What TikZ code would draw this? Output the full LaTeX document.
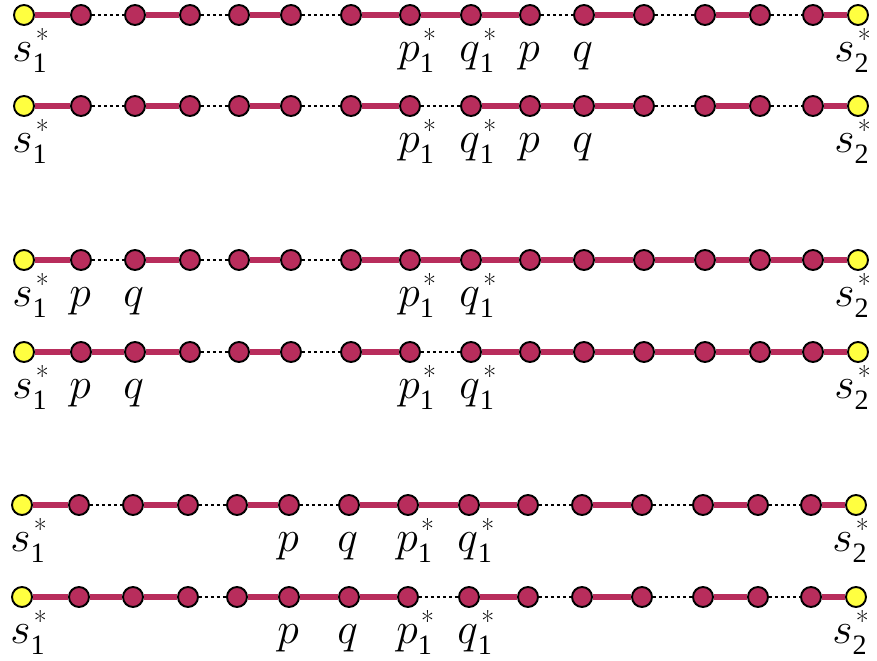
\documentclass[tikz,border=0pt]{standalone}
\usepackage{fontspec}
\newfontfamily\digfont{Liberation Serif}
\usepackage{tikz}
\usetikzlibrary{positioning,backgrounds}
\definecolor{berry}{RGB}{184,45,92}
\definecolor{sun}{RGB}{255,255,64}
% italic letter with index below and star above it
\newcommand{\idx}[2]{$#1${\fontsize{16}{16}\selectfont\rlap{\kern0.12em\raisebox{0.44em}{*}}\raisebox{-0.36em}{\digfont #2}}}

\begin{document}
\begin{tikzpicture}[x=0.02cm,y=-0.02cm,
  bead/.style={circle,draw,line width=1.1pt,fill=berry,minimum size=0.4cm,inner sep=0pt},
  endb/.style={bead,fill=sun},
  seg/.style={draw=berry,line width=3pt},
  hop/.style={draw,line width=1.2pt,dash pattern=on 1.7pt off 1.7pt},
  lab/.style={anchor=base west,inner sep=0pt,font=\fontsize{29}{33}\selectfont},
  labr/.style={lab,anchor=base east}]
\useasboundingbox (0,0) rectangle (877,661);
% six chains of sixteen beads
\foreach \r/\y/\dx in {1/15/0,2/106/0,3/260/0,4/352/0,5/505/-2,6/597/-2}{
  \foreach \i/\x/\s in {1/24/endb,2/81/bead,3/135/bead,4/190/bead,5/239/bead,6/291/bead,
      7/351/bead,8/410/bead,9/471/bead,10/530/bead,11/584/bead,12/644/bead,
      13/705/bead,14/760/bead,15/813/bead,16/858/endb}
    \node[\s] (r\r-\i) at (\x+\dx,\y) {};
}
% links: solid pairs and dotted gaps
\begin{scope}[on background layer]
\foreach \r/\sl/\dl in {1/{1,3,5,7,8,9,11,13,15}/{2,4,6,10,12,14},
    2/{1,3,5,7,9,10,11,13,15}/{2,4,6,8,12,14},
    3/{1,3,5,7,8,9,10,11,12,13,14,15}/{2,4,6},
    4/{1,2,3,5,7,9,10,11,12,13,14,15}/{4,6,8},
    5/{1,3,5,7,8,9,11,13,15}/{2,4,6,10,12,14},
    6/{1,2,3,5,6,7,9,11,13,15}/{4,8,10,12,14}}{
  \foreach \i in \sl{
    \pgfmathtruncatemacro\j{\i+1}
    \draw[seg] (r\r-\i) -- (r\r-\j);
  }
  \foreach \i in \dl{
    \pgfmathtruncatemacro\j{\i+1}
    \draw[hop] (r\r-\i) -- (r\r-\j);
  }
}
\end{scope}
% labels under the beads
\foreach \r/\pp/\qq in {1/10/11,2/10/11,3/2/3,4/2/3,5/6/7,6/6/7}{
  \foreach \i/\t in {1/\idx{s}{1},\pp/$p$,\qq/$q$,8/\idx{p}{1},9/\idx{q}{1}}
    \node[lab] (l\r-\i) at ([shift={(-12,47)}]r\r-\i.center) {\t};
  \node[labr] (l\r-16) at ([shift={(11,47)}]r\r-16.center) {\idx{s}{2}};
}
\end{tikzpicture}
\end{document}
